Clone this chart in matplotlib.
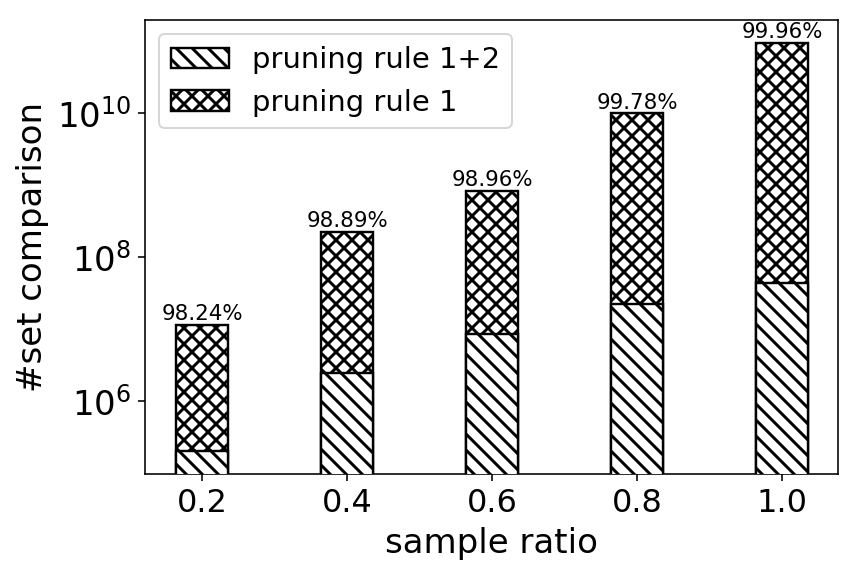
import numpy as np
import matplotlib.pyplot as plt

plt.rcParams['hatch.linewidth'] = 1.5

# data
ratios = [0.2, 0.4, 0.6, 0.8, 1.0]
rule1 = [1.15e7, 2.23e8, 8.3e8, 1.0e10, 9.7e10]
rule12 = [2.0e5, 2.48e6, 8.6e6, 2.2e7, 4.4e7]
pct_labels = ['98.24%', '98.89%', '98.96%', '99.78%', '99.96%']

fig = plt.figure(figsize=(865 / 144, 578 / 144), dpi=144)
ax = fig.add_axes([0.1676, 0.18, 0.8012, 0.7854])

w = 0.072
b1 = ax.bar(ratios, rule1, width=w, color='white', edgecolor='black',
            hatch='xxx', linewidth=1.2, label='pruning rule 1', zorder=2)
b2 = ax.bar(ratios, rule12, width=w, color='white', edgecolor='black',
            hatch='\\\\\\', linewidth=1.2, label='pruning rule 1+2', zorder=3)

ax.set_yscale('log')
ax.set_ylim(9.6e4, 2.0e11)
ax.set_xlim(0.121, 1.077)
ax.set_xticks(ratios)
ax.set_xticklabels([str(r) for r in ratios])
ax.set_yticks([1e6, 1e8, 1e10])
ax.minorticks_off()
ax.tick_params(axis='x', labelsize=16)
ax.tick_params(axis='y', labelsize=17)

for x, top, lab in zip(ratios, rule1, pct_labels):
    ax.text(x, top * 1.03, lab, ha='center', va='bottom', fontsize=10.7)

ax.set_xlabel('sample ratio', fontsize=17)
ax.set_ylabel('#set comparison', fontsize=17)
ax.legend(handles=[b2, b1], loc='upper left', fontsize=14.5)

fig.savefig('out.png', dpi=144)
